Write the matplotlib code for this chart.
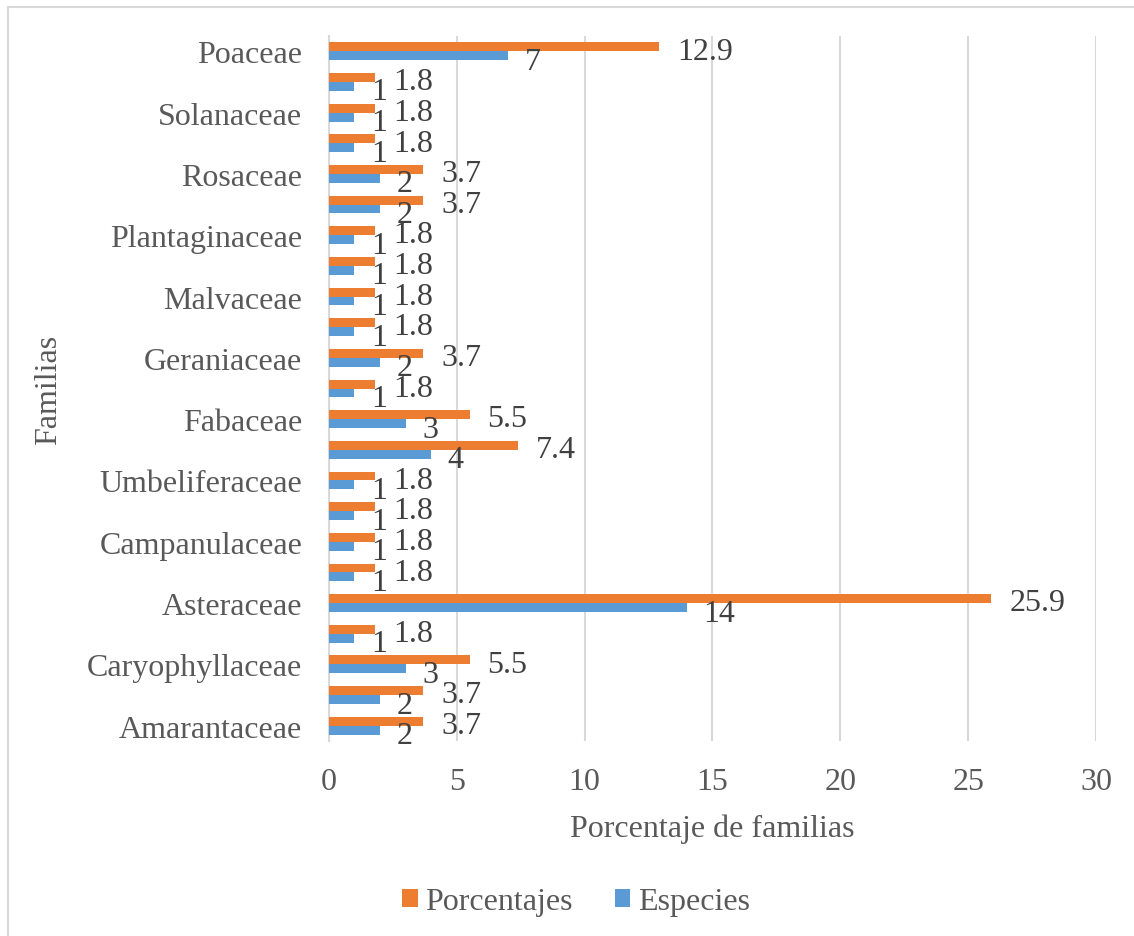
import numpy as np
import matplotlib
matplotlib.use('Agg')
import matplotlib.pyplot as plt
from matplotlib.patches import Rectangle

# datos (de abajo hacia arriba, como en el eje de categorías)
familias = ['Amarantaceae', '', 'Caryophyllaceae', '', 'Asteraceae', '',
            'Campanulaceae', '', 'Umbeliferaceae', '', 'Fabaceae', '',
            'Geraniaceae', '', 'Malvaceae', '', 'Plantaginaceae', '',
            'Rosaceae', '', 'Solanaceae', '', 'Poaceae']
porcentajes = [3.7, 3.7, 5.5, 1.8, 25.9, 1.8, 1.8, 1.8, 1.8, 7.4, 5.5, 1.8,
               3.7, 1.8, 1.8, 1.8, 1.8, 3.7, 3.7, 1.8, 1.8, 1.8, 12.9]
especies = [2, 2, 3, 1, 14, 1, 1, 1, 1, 4, 3, 1,
            2, 1, 1, 1, 1, 2, 2, 1, 1, 1, 7]
xticks = [0, 5, 10, 15, 20, 25, 30]

plt.rcParams['font.family'] = ['Liberation Serif', 'DejaVu Serif']
fs = 23
naranja = '#ED7D31'
azul = '#5B9BD5'
gris_txt = '#595959'

fig = plt.figure(figsize=(11.34, 9.37), dpi=100)
# marco del gráfico
fig.patches.append(Rectangle((8 / 1134, -0.1), 1.2, 1 - 8 / 937 + 0.1,
                             transform=fig.transFigure, fill=False,
                             edgecolor='#d9d9d9', linewidth=1.5))
ax = fig.add_axes([0.290, 0.2081, 0.6765, 0.7524])

y = np.arange(len(familias))
h = 0.29
b1 = ax.barh(y + h / 2, porcentajes, height=h, color=naranja, label='Porcentajes', zorder=3)
b2 = ax.barh(y - h / 2, especies, height=h, color=azul, label='Especies', zorder=3)

# etiquetas de datos
for rect, v in zip(b1, porcentajes):
    ax.annotate(str(v), (rect.get_width(), rect.get_y() + rect.get_height() / 2),
                xytext=(13, -3), textcoords='offset points', ha='left', va='center',
                fontsize=fs, color='#404040', zorder=4)
for rect, v in zip(b2, especies):
    ax.annotate(str(v), (rect.get_width(), rect.get_y() + rect.get_height() / 2),
                xytext=(12, -4), textcoords='offset points', ha='left', va='center',
                fontsize=fs, color='#404040', zorder=4)

ax.set_xlim(0, 30)
ax.set_ylim(-0.5, len(familias) - 0.5)
ax.set_xticks(xticks)
ax.set_yticks(y)
ax.set_yticklabels(familias)
ax.tick_params(axis='both', length=0, labelsize=fs, colors=gris_txt)
ax.tick_params(axis='y', pad=19)
ax.tick_params(axis='x', pad=19)
ax.grid(axis='x', color='#d9d9d9', linewidth=1.5, zorder=0)
for s in ['top', 'right', 'bottom']:
    ax.spines[s].set_visible(False)
ax.spines['left'].set_color('#d9d9d9')
ax.spines['left'].set_linewidth(1.5)

ax.set_xlabel('Porcentaje de familias', fontsize=fs, color=gris_txt, labelpad=12)
ax.set_ylabel('Familias', fontsize=fs, color=gris_txt)
ax.yaxis.set_label_coords(63 / 1134, 1 - 390 / 937, transform=fig.transFigure)

fig.legend(handles=[b1, b2], loc='center', bbox_to_anchor=(576 / 1134, 1 - 903 / 937),
           ncol=2, frameon=False, fontsize=fs, labelcolor=gris_txt,
           handlelength=0.5, handleheight=0.5, handletextpad=0.25, columnspacing=1.3)

fig.savefig('out.png', dpi=100)
